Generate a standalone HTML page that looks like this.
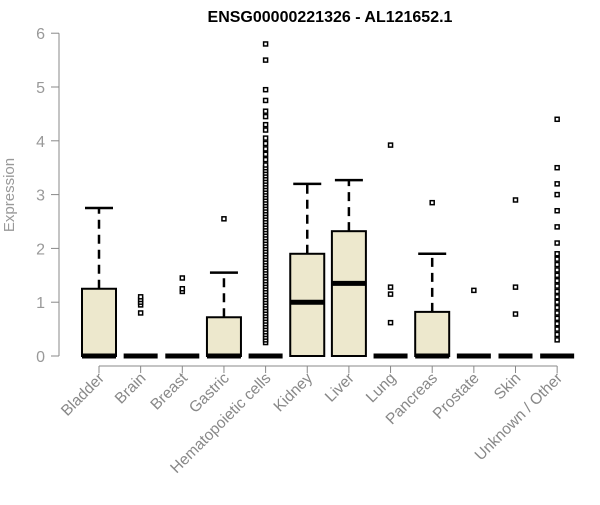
<!DOCTYPE html>
<html><head><meta charset="utf-8"><style>
body{margin:0;background:#fff;}
svg text{font-family:"Liberation Sans",Arial,sans-serif;}
</style></head><body>
<svg id="chart" width="600" height="500" xmlns="http://www.w3.org/2000/svg">
<text x="330" y="22" text-anchor="middle" font-weight="bold" font-size="16">ENSG00000221326 - AL121652.1</text>
<text transform="translate(14,195) rotate(-90)" text-anchor="middle" font-size="15" fill="#999">Expression</text>
<g id="axes"></g><g id="boxes"></g>
</svg>
<script>
const categories=["Bladder","Brain","Breast","Gastric","Hematopoietic cells","Kidney","Liver","Lung","Pancreas","Prostate","Skin","Unknown / Other"];
const q1=[0,0,0,0,0,0,0,0,0,0,0,0];
const medians=[0,0,0,0,0,1.0,1.35,0,0,0,0,0];
const q3=[1.25,0,0,0.72,0,1.9,2.32,0,0.82,0,0,0];
const whiskHi=[2.75,0,0,1.55,0,3.2,3.27,0,1.9,0,0,0];
const outliers=[[],[0.8,0.95,1.0,1.05,1.1],[1.2,1.25,1.45],[2.55],
[0.25,0.3,0.35,0.4,0.45,0.5,0.55,0.6,0.65,0.7,0.75,0.8,0.85,0.9,0.95,1.0,1.05,1.1,1.15,1.2,1.25,1.3,1.35,1.4,1.45,1.5,1.55,1.6,1.65,1.7,1.75,1.8,1.85,1.9,1.95,2.0,2.05,2.1,2.15,2.2,2.25,2.3,2.35,2.4,2.45,2.5,2.55,2.6,2.65,2.7,2.75,2.8,2.85,2.9,2.95,3.0,3.05,3.1,3.15,3.2,3.25,3.3,3.35,3.4,3.45,3.5,3.55,3.65,3.75,3.85,3.95,4.05,4.2,4.3,4.45,4.55,4.75,4.95,5.5,5.8],
[],[],[0.62,1.15,1.28,3.92],[2.85],[1.22],[0.78,1.28,2.9],
[0.3,0.4,0.5,0.6,0.7,0.8,0.9,1.0,1.1,1.2,1.3,1.4,1.5,1.6,1.7,1.8,1.9,2.1,2.4,2.7,3.0,3.2,3.5,4.4]];
const yTicks=[0,1,2,3,4,5,6];
const NS="http://www.w3.org/2000/svg";
const y=v=>356-v*53.8;
const x=i=>99+i*41.65;
function mk(t,a,p){const e=document.createElementNS(NS,t);for(const k in a)e.setAttribute(k,a[k]);p.appendChild(e);return e;}
const ax=document.getElementById('axes'),bx=document.getElementById('boxes');
let l=mk('line',{x1:59,x2:59,y1:y(6),y2:y(0),stroke:'#888'},ax);

yTicks.forEach(t=>{const tk=mk('line',{x1:51,x2:59,y1:y(t),y2:y(t),stroke:'#888'},ax);

const tx=mk('text',{x:45,y:y(t)+6,'text-anchor':'end','font-size':'16',fill:'#999'},ax);tx.textContent=t;
});
l=mk('line',{x1:x(0),x2:x(11),y1:366,y2:366,stroke:'#888'},ax);

categories.forEach((c,i)=>{const tk=mk('line',{x1:x(i),x2:x(i),y1:366,y2:373,stroke:'#888'},ax);

const tx=mk('text',{transform:`translate(${x(i)+6},379) rotate(-45)`,'text-anchor':'end','font-size':'15.5',fill:'#888'},ax);tx.textContent=c;

const g=mk('g',{},bx);
const cx=x(i),w=17;
if(whiskHi[i]>q3[i]){mk('line',{x1:cx,x2:cx,y1:y(q3[i]),y2:y(whiskHi[i]),stroke:'#000','stroke-width':2.5,'stroke-dasharray':'9,6'},g);
mk('line',{x1:cx-14,x2:cx+14,y1:y(whiskHi[i]),y2:y(whiskHi[i]),stroke:'#000','stroke-width':2.5},g);}
if(q3[i]>q1[i])mk('rect',{x:cx-w,y:y(q3[i]),width:2*w,height:y(q1[i])-y(q3[i]),fill:'#ede8cd',stroke:'#000','stroke-width':2},g);
mk('line',{x1:cx-w,x2:cx+w,y1:y(medians[i]),y2:y(medians[i]),stroke:'#000','stroke-width':5},g);
outliers[i].forEach(v=>{const p=mk('rect',{x:cx-2,y:y(v)-2,width:4,height:4,fill:'#fff',stroke:'#000','stroke-width':1.5},g);
});
});
</script>
</body></html>
